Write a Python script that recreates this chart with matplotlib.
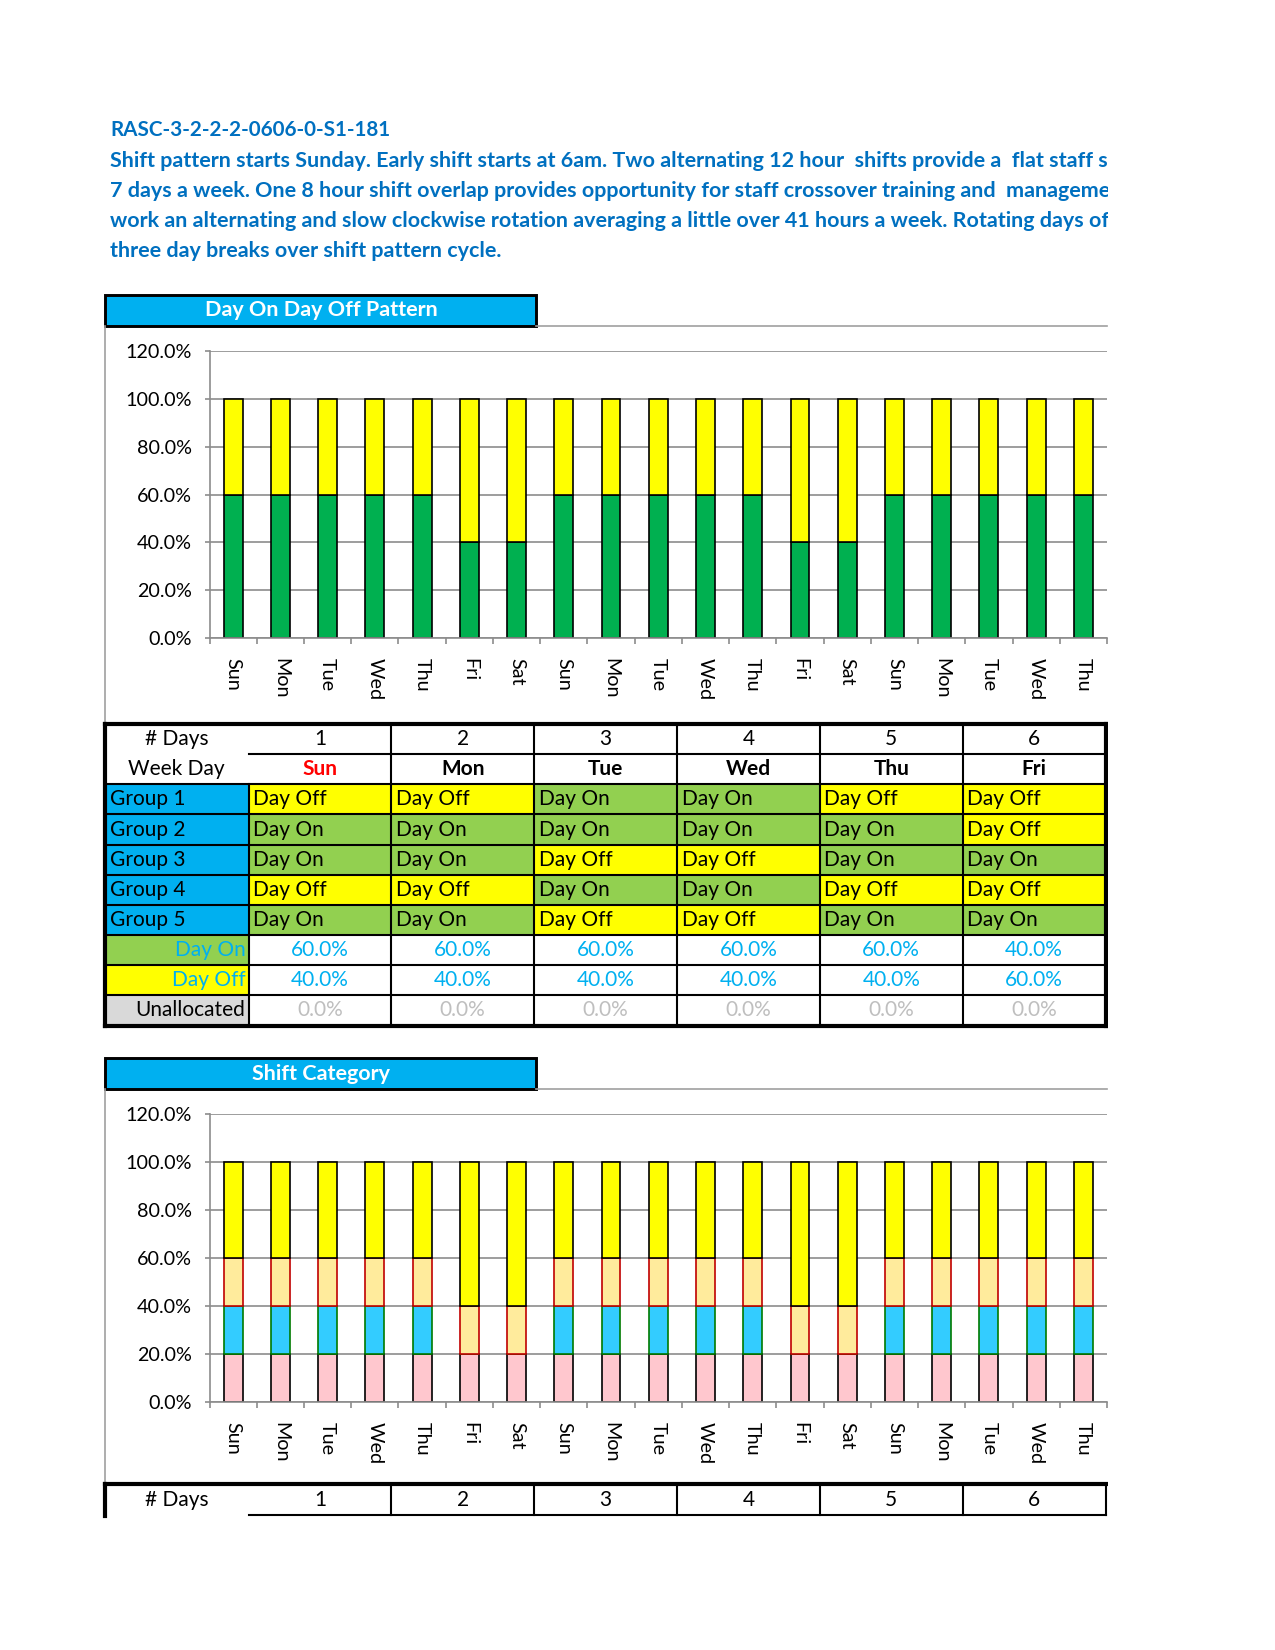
# Day On / Day Off pattern sheet with the shift category chart below it
import numpy as np
import matplotlib.pyplot as plt
from matplotlib.patches import Rectangle
from matplotlib.lines import Line2D

plt.rcParams['font.family'] = ['Lato', 'DejaVu Sans']

W, H = 1275, 1650

# ---- data ----
title_lines = [
    "RASC-3-2-2-2-0606-0-S1-181",
    "Shift pattern starts Sunday. Early shift starts at 6am. Two alternating 12 hour  shifts provide a  flat staff s",
    "7 days a week. One 8 hour shift overlap provides opportunity for staff crossover training and  manageme",
    "work an alternating and slow clockwise rotation averaging a little over 41 hours a week. Rotating days of",
    "three day breaks over shift pattern cycle.",
]

days = ['Sun', 'Mon', 'Tue', 'Wed', 'Thu', 'Fri', 'Sat',
        'Sun', 'Mon', 'Tue', 'Wed', 'Thu', 'Fri', 'Sat',
        'Sun', 'Mon', 'Tue', 'Wed', 'Thu']

# chart 1: share of staff on / off
day_on = [0.6, 0.6, 0.6, 0.6, 0.6, 0.4, 0.4,
          0.6, 0.6, 0.6, 0.6, 0.6, 0.4, 0.4,
          0.6, 0.6, 0.6, 0.6, 0.6]
day_off = [0.4, 0.4, 0.4, 0.4, 0.4, 0.6, 0.6,
           0.4, 0.4, 0.4, 0.4, 0.4, 0.6, 0.6,
           0.4, 0.4, 0.4, 0.4, 0.4]

# chart 2: shift category stack (bottom to top)
cat_pink = [0.2, 0.2, 0.2, 0.2, 0.2, 0.2, 0.2,
            0.2, 0.2, 0.2, 0.2, 0.2, 0.2, 0.2,
            0.2, 0.2, 0.2, 0.2, 0.2]
cat_blue = [0.2, 0.2, 0.2, 0.2, 0.2, 0.0, 0.0,
            0.2, 0.2, 0.2, 0.2, 0.2, 0.0, 0.0,
            0.2, 0.2, 0.2, 0.2, 0.2]
cat_pale = [0.2, 0.2, 0.2, 0.2, 0.2, 0.2, 0.2,
            0.2, 0.2, 0.2, 0.2, 0.2, 0.2, 0.2,
            0.2, 0.2, 0.2, 0.2, 0.2]
cat_off = [0.4, 0.4, 0.4, 0.4, 0.4, 0.6, 0.6,
           0.4, 0.4, 0.4, 0.4, 0.4, 0.6, 0.6,
           0.4, 0.4, 0.4, 0.4, 0.4]

# table
day_nums = ['1', '2', '3', '4', '5', '6']
week_days = ['Sun', 'Mon', 'Tue', 'Wed', 'Thu', 'Fri']
groups = ['Group 1', 'Group 2', 'Group 3', 'Group 4', 'Group 5']
group_status = [
    ['Day Off', 'Day Off', 'Day On', 'Day On', 'Day Off', 'Day Off'],
    ['Day On', 'Day On', 'Day On', 'Day On', 'Day On', 'Day Off'],
    ['Day On', 'Day On', 'Day Off', 'Day Off', 'Day On', 'Day On'],
    ['Day Off', 'Day Off', 'Day On', 'Day On', 'Day Off', 'Day Off'],
    ['Day On', 'Day On', 'Day Off', 'Day Off', 'Day On', 'Day On'],
]
pct_on = ['60.0%', '60.0%', '60.0%', '60.0%', '60.0%', '40.0%']
pct_off = ['40.0%', '40.0%', '40.0%', '40.0%', '40.0%', '60.0%']
pct_unalloc = ['0.0%', '0.0%', '0.0%', '0.0%', '0.0%', '0.0%']

# ---- colours ----
BLUE_HDR = '#00B0F0'
TITLE_BLUE = '#0070C0'
GREEN_BAR = '#00B050'
GREEN_CELL = '#92D050'
YELLOW = '#FFFF00'
GRID = '#8c8c8c'
FRAME = '#a0a0a0'

fig = plt.figure(figsize=(W / 150, H / 150), dpi=150)


def fx(x):
    return x / W


def fy(y):
    return 1 - y / H


def rect(x0, y0, x1, y1, fc, ec='none', lw=0, z=2):
    fig.add_artist(Rectangle((fx(x0), fy(y1)), (x1 - x0) / W, (y1 - y0) / H,
                             transform=fig.transFigure, facecolor=fc,
                             edgecolor=ec, linewidth=lw, zorder=z))


def line(x0, y0, x1, y1, color='black', lw=1.0, z=4):
    fig.add_artist(Line2D([fx(x0), fx(x1)], [fy(y0), fy(y1)],
                          transform=fig.transFigure, color=color,
                          linewidth=lw, zorder=z, solid_capstyle='projecting'))


def txt(x, y, s, ha='left', color='black', size=10, weight='normal'):
    fig.text(fx(x), fy(y), s, ha=ha, va='center', color=color,
             fontsize=size, fontweight=weight, zorder=6)


# ---- title block ----
title_y = [130, 161, 191, 221, 251]
title_size = [9.9, 10.3, 10.3, 10.3, 10.3]
for s, y, fs in zip(title_lines, title_y, title_size):
    txt(110, y, s, color=TITLE_BLUE, size=fs, weight='bold')

# ---- chart frames with header tabs ----
CLIP_X = 1107


def chart_frame(top, bottom, label):
    rect(105, top - 31, 536, top, BLUE_HDR, ec='black', lw=1.4, z=3)
    txt(321, top - 15.5, label, ha='center', color='white', size=10.3, weight='bold')
    line(536, top, CLIP_X, top, color=FRAME, lw=0.8)
    line(105, top, 105, bottom, color=FRAME, lw=0.8)


chart_frame(326, 724, 'Day On Day Off Pattern')
chart_frame(1089, 1484, 'Shift Category')

SPACING = 47.6
AX_LEFT = 209.5
xmax = -0.5 + (CLIP_X - AX_LEFT) / SPACING


def setup_axes(top, bottom):
    ax = fig.add_axes([fx(AX_LEFT), fy(bottom), (CLIP_X - AX_LEFT) / W,
                       (bottom - top) / H])
    ax.set_xlim(-0.5, xmax)
    ax.set_ylim(0, 1.2)
    ax.set_yticks(np.arange(0, 1.21, 0.2))
    ax.set_yticklabels(['%.1f%%' % (v * 100) for v in np.arange(0, 1.21, 0.2)])
    ax.yaxis.grid(True, color=GRID, linewidth=0.8)
    ax.set_axisbelow(True)
    ax.set_xticks(np.arange(len(days)))
    ax.set_xticklabels(days, rotation=270)
    ax.set_xticks(np.arange(-0.5, len(days), 1), minor=True)
    ax.tick_params(axis='x', which='major', length=0, pad=9.5, labelsize=9.5)
    ax.tick_params(axis='x', which='minor', length=3, color=GRID, width=0.8)
    ax.tick_params(axis='y', length=2.6, color=GRID, width=0.8, pad=6, labelsize=9.5)
    for side in ['top', 'right']:
        ax.spines[side].set_visible(False)
    for side in ['left', 'bottom']:
        ax.spines[side].set_color(GRID)
        ax.spines[side].set_linewidth(0.8)
    for lab in ax.get_xticklabels():
        lab.set_verticalalignment('top')
    return ax


x = np.arange(len(days))
bw = 0.4

ax1 = setup_axes(351, 638)
ax1.bar(x, day_on, bw, color=GREEN_BAR, edgecolor='black', linewidth=0.8)
ax1.bar(x, day_off, bw, bottom=day_on, color=YELLOW, edgecolor='black', linewidth=0.8)

ax2 = setup_axes(1114, 1402)
b1 = np.array(cat_pink)
b2 = b1 + np.array(cat_blue)
b3 = b2 + np.array(cat_pale)
ax2.bar(x, cat_pink, bw, color='#FFC7CE', edgecolor='black', linewidth=0.8)
ax2.bar(x, cat_blue, bw, bottom=b1, color='#33CCFF', edgecolor='#007A00', linewidth=0.8)
ax2.bar(x, cat_pale, bw, bottom=b2, color='#FFEB9C', edgecolor='#C00000', linewidth=0.8)
ax2.bar(x, cat_off, bw, bottom=b3, color=YELLOW, edgecolor='black', linewidth=0.8)

# ---- pattern table ----
L, LC = 105, 248.5
CW = (1105.5 - LC) / 6
col_edges = [LC + CW * k for k in range(7)]
col_mid = [LC + CW * (k + 0.5) for k in range(6)]
RH = 30.15
T = 724
row_edges = [T + RH * k for k in range(11)]
row_mid = [T + RH * (k + 0.5) for k in range(10)]
R = col_edges[-1]
B = row_edges[-1]
TS = 10

# fills
for g in range(5):
    y0, y1 = row_edges[g + 2], row_edges[g + 3]
    rect(L, y0, LC, y1, BLUE_HDR)
    for c in range(6):
        fc = GREEN_CELL if group_status[g][c] == 'Day On' else YELLOW
        rect(col_edges[c], y0, col_edges[c + 1], y1, fc)
rect(L, row_edges[7], LC, row_edges[8], GREEN_CELL)
rect(L, row_edges[8], LC, row_edges[9], YELLOW)
rect(L, row_edges[9], LC, row_edges[10], '#D9D9D9')

# grid lines
lw_in = 1.0
line(LC, row_edges[1], R, row_edges[1], lw=lw_in)
for k in range(2, 10):
    line(L, row_edges[k], R, row_edges[k], lw=lw_in)
line(LC, row_edges[2], LC, B, lw=lw_in)
for xe in col_edges[1:-1]:
    line(xe, T, xe, B, lw=lw_in)
# outer border
line(L, T, R, T, lw=2.0)
line(L, B, R, B, lw=2.0)
line(L, T, L, B, lw=2.0)
line(R, T, R, B, lw=2.0)

# text
txt((L + LC) / 2, row_mid[0], '# Days', ha='center', size=TS)
txt((L + LC) / 2, row_mid[1], 'Week Day', ha='center', size=TS)
for c in range(6):
    txt(col_mid[c], row_mid[0], day_nums[c], ha='center', size=TS)
    txt(col_mid[c], row_mid[1], week_days[c], ha='center', size=TS, weight='bold',
        color='#FF0000' if week_days[c] == 'Sun' else 'black')
for g in range(5):
    txt(L + 5, row_mid[g + 2], groups[g], size=TS)
    for c in range(6):
        txt(col_edges[c] + 4.5, row_mid[g + 2], group_status[g][c], size=TS)
txt(LC - 3, row_mid[7], 'Day On', ha='right', color=BLUE_HDR, size=TS)
txt(LC - 3, row_mid[8], 'Day Off', ha='right', color=BLUE_HDR, size=TS)
txt(LC - 3, row_mid[9], 'Unallocated', ha='right', size=TS)
for c in range(6):
    txt(col_mid[c], row_mid[7], pct_on[c], ha='center', color=BLUE_HDR, size=TS)
    txt(col_mid[c], row_mid[8], pct_off[c], ha='center', color=BLUE_HDR, size=TS)
    txt(col_mid[c], row_mid[9], pct_unalloc[c], ha='center', color='#BFBFBF', size=TS)

# ---- second table, cut at the page bottom ----
T2 = 1484
line(L, T2, R, T2, lw=2.0)
line(L, T2, L, 1516, lw=2.0)
line(LC, T2 + 31, R, T2 + 31, lw=lw_in)
for xe in col_edges[1:]:
    line(xe, T2, xe, T2 + 31, lw=lw_in)
txt((L + LC) / 2, T2 + 16.5, '# Days', ha='center', size=TS)
for c in range(6):
    txt(col_mid[c], T2 + 16.5, day_nums[c], ha='center', size=TS)

# page edge on the right
rect(CLIP_X + 1, 0, W, H, 'white', z=10)

fig.savefig('out.png', dpi=150)
